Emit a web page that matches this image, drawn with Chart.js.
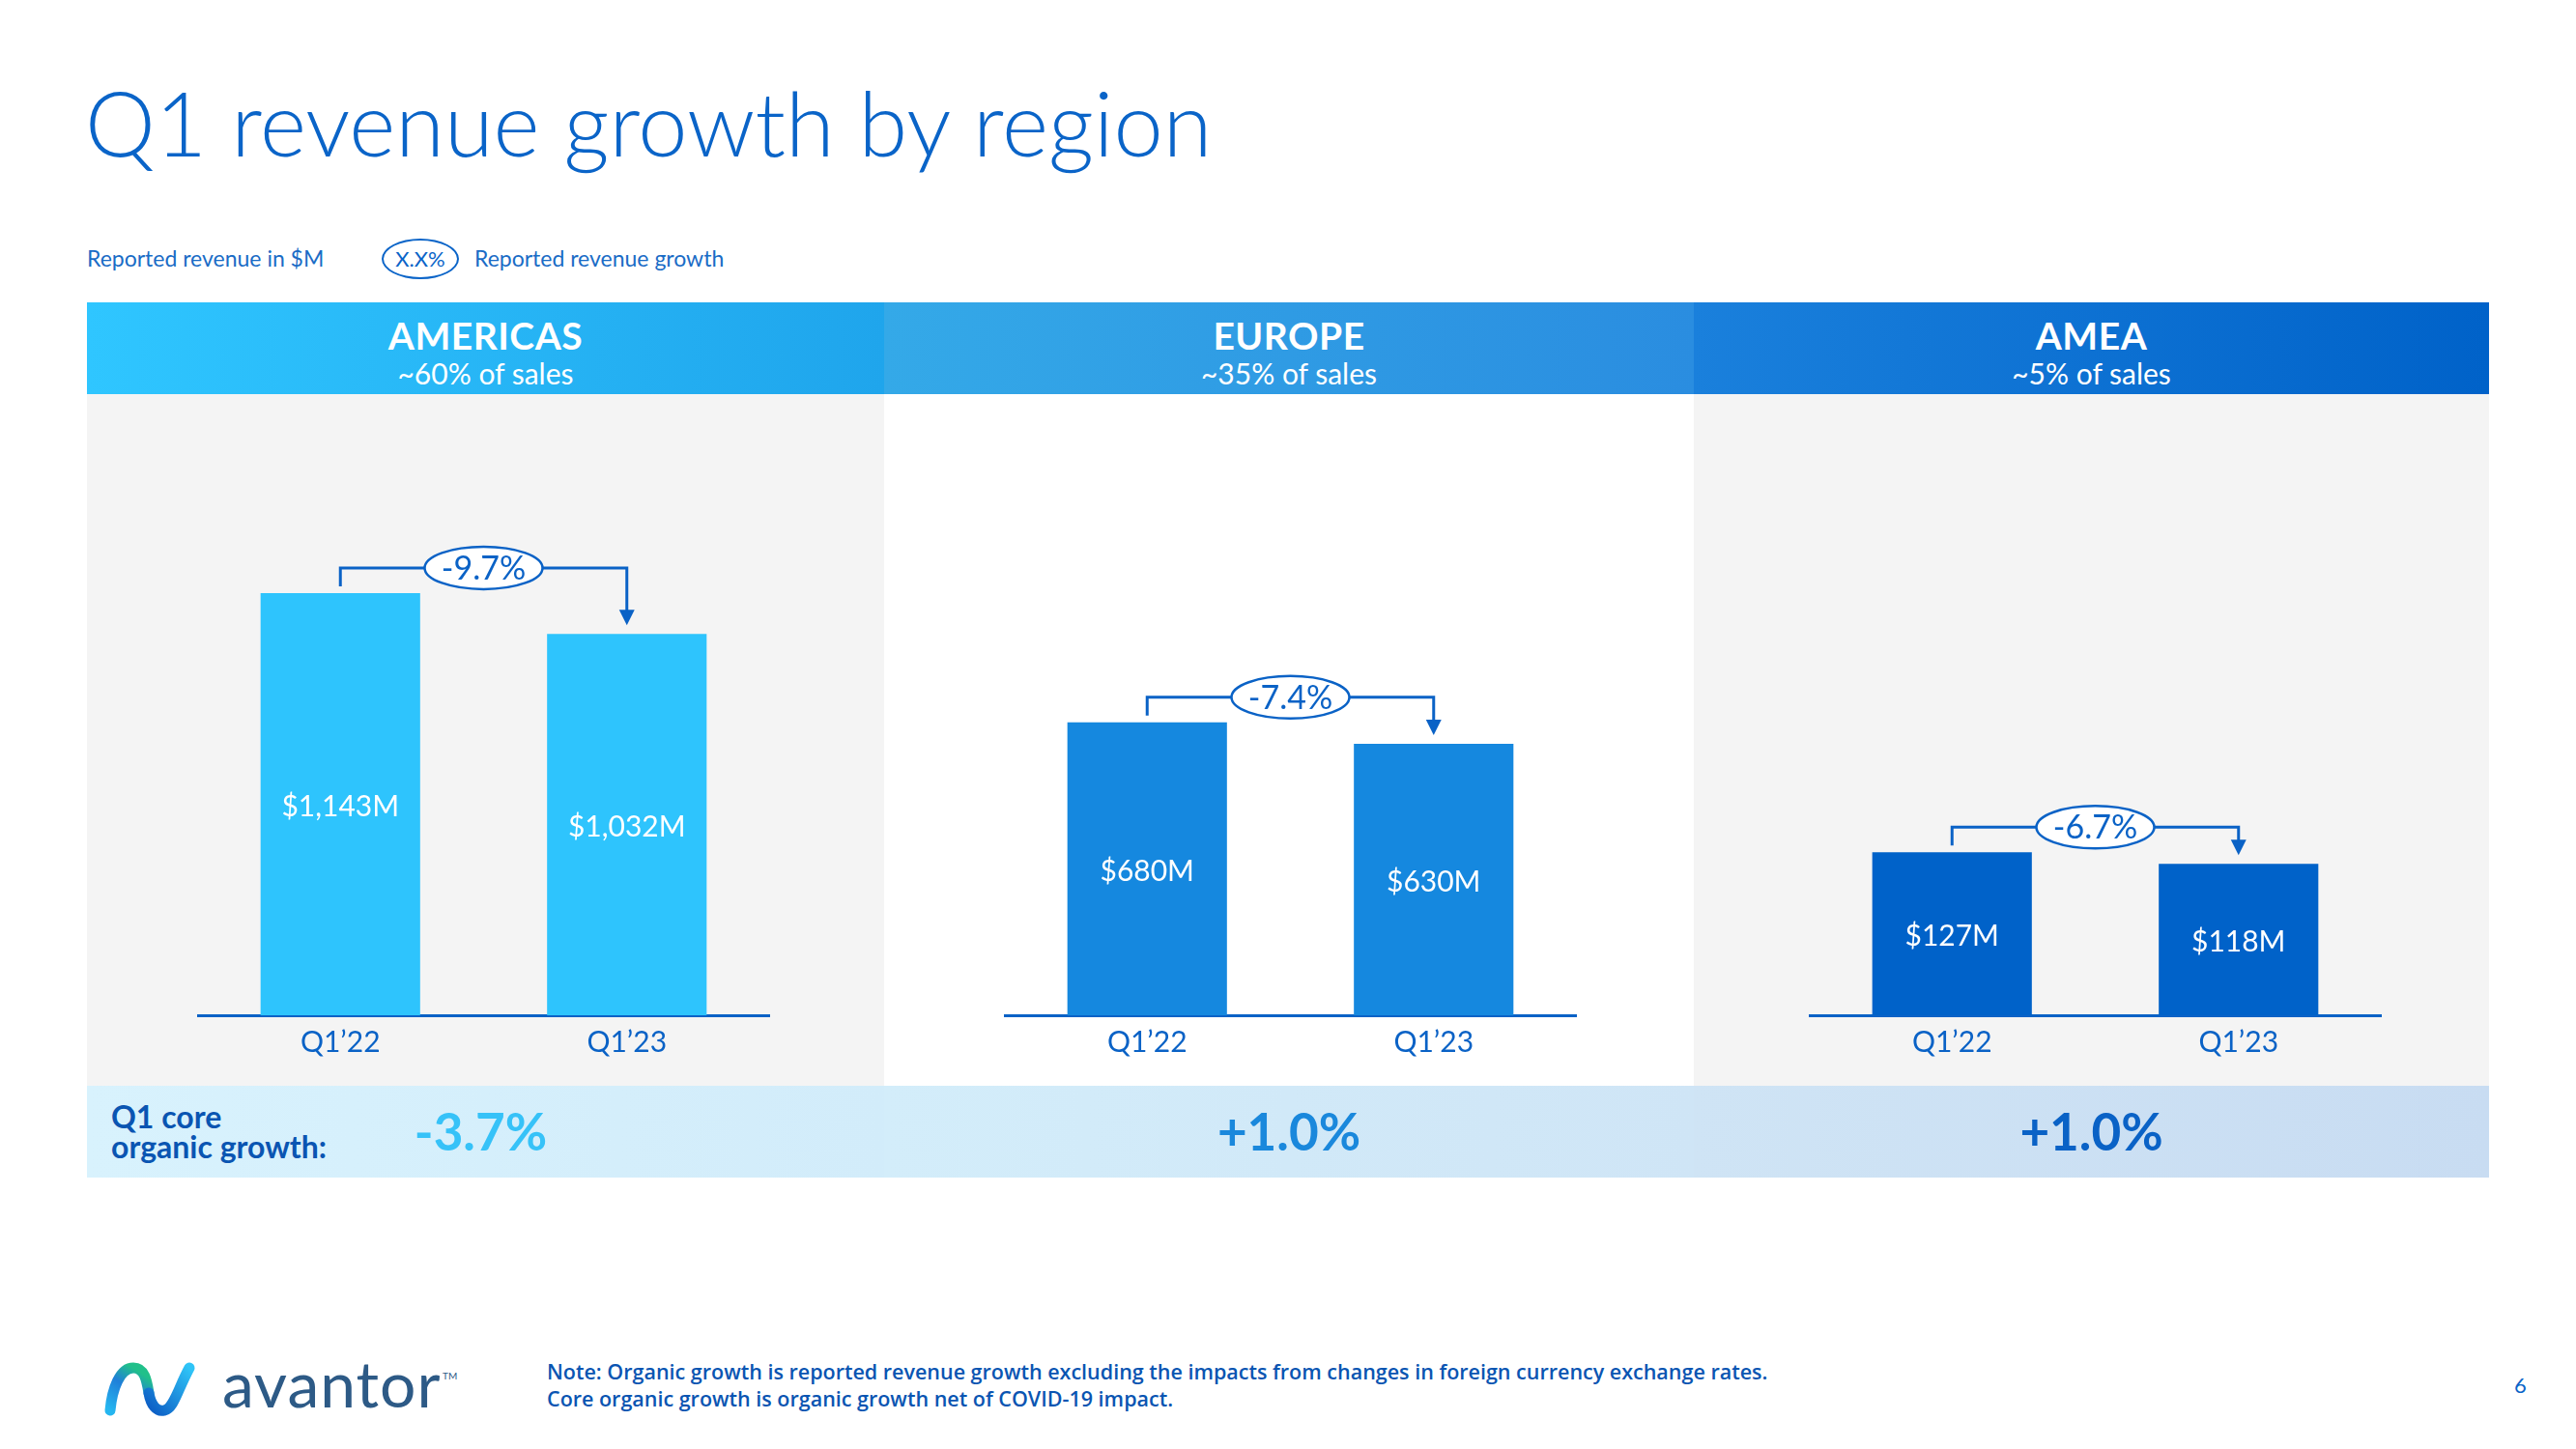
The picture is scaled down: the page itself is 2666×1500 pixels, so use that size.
<!DOCTYPE html>
<html>
<head>
<meta charset="utf-8">
<script src="https://cdn.jsdelivr.net/npm/chart.js@4.4.0/dist/chart.umd.min.js"></script>
<style>
  html, body { margin: 0; padding: 0; background: #ffffff; }
  body { width: 2666px; height: 1500px; position: relative; overflow: hidden; font-family: Lato, "Open Sans", sans-serif; color: #0862c6; }
  .abs { position: absolute; }
  #title { left: 88px; top: 76px; font-size: 92px; font-weight: 300; color: #0a64c8; white-space: nowrap; line-height: 1.1; }
  .legend { top: 252px; font-size: 23px; color: #1a6cc6; white-space: nowrap; line-height: 30px; }
  #legendOval { left: 395px; top: 247px; width: 76px; height: 38px; border: 2px solid #0a64c8; border-radius: 50%; text-align: center; line-height: 38px; font-size: 22px; color: #0a64c8; }
  .head { top: 313px; height: 95px; color: #fff; text-align: center; }
  .head .name { position: absolute; left: 0; right: 0; top: 13px; font-size: 39px; font-weight: 700; line-height: 42px; letter-spacing: 0.5px; }
  .head .share { position: absolute; left: 0; right: 0; top: 56px; font-size: 30px; line-height: 34px; }
  .panel { top: 408px; height: 716px; }
  .band { top: 1124px; height: 95px; }
  .growth { position: absolute; top: 18px; font-size: 53px; font-weight: 700; line-height: 58px; text-align: center; }
  #coreLabel { left: 115px; top: 1140px; font-size: 32px; font-weight: 700; color: #0a55b2; line-height: 31px; }
  canvas { position: absolute; }
  #note { left: 566px; top: 1406px; font-family: "Open Sans", sans-serif; font-size: 21.5px; font-weight: 600; color: #0a55b2; line-height: 28px; white-space: nowrap; }
  #page { left: 2602px; top: 1420px; font-size: 22px; color: #0a64c8; }
  #logoText { left: 230px; top: 1392px; font-size: 66px; color: #2d5a86; font-weight: 400; letter-spacing: 1px; line-height: 80px; }
  #tm { left: 458px; top: 1418px; font-size: 10px; color: #2d5a86; }
</style>
</head>
<body>
<div id="title" class="abs">Q1 revenue growth by region</div>
<div class="abs legend" style="left:90px">Reported revenue in $M</div>
<div id="legendOval" class="abs">X.X%</div>
<div class="abs legend" style="left:491px">Reported revenue growth</div>

<div id="heads"></div>
<div id="coreLabel" class="abs">Q1 core<br>organic growth:</div>

<svg class="abs" style="left:108px; top:1408px" width="120" height="60" viewBox="0 0 120 60">
  <defs>
    <linearGradient id="g1" x1="0" y1="1" x2="0.6" y2="0">
      <stop offset="0" stop-color="#25b6f0"/>
      <stop offset="0.6" stop-color="#1f7fd8"/>
      <stop offset="1" stop-color="#21c08a"/>
    </linearGradient>
    <linearGradient id="g2" x1="0" y1="1" x2="1" y2="0">
      <stop offset="0" stop-color="#0c5cc4"/>
      <stop offset="1" stop-color="#2fc4f7"/>
    </linearGradient>
  </defs>
  <path d="M6 52 C 8 30, 16 8, 30 8 C 42 8, 44 22, 46 34" fill="none" stroke="url(#g1)" stroke-width="11" stroke-linecap="round"/>
  <path d="M46 34 C 48 46, 54 54, 62 52 C 72 50, 76 30, 88 8" fill="none" stroke="url(#g2)" stroke-width="11" stroke-linecap="round"/>
</svg>
<div id="logoText" class="abs">avantor</div>
<div id="tm" class="abs">TM</div>
<div id="note" class="abs">Note: Organic growth is reported revenue growth excluding the impacts from changes in foreign currency exchange rates.<br>Core organic growth is organic growth net of COVID-19 impact.</div>
<div id="page" class="abs">6</div>

<script>
// chart data
const regions = ['AMERICAS', 'EUROPE', 'AMEA'];
const salesShare = ['~60% of sales', '~35% of sales', '~5% of sales'];
const periods = ['Q1\u201922', 'Q1\u201923'];
const americasRevenue = [1143, 1032];
const europeRevenue = [680, 630];
const ameaRevenue = [127, 118];
const reportedGrowth = ['-9.7%', '-7.4%', '-6.7%'];
const coreOrganicGrowth = ['-3.7%', '+1.0%', '+1.0%'];
const axisMax = [1650, 1415, 475];

// look per region
const barColors = ['#2ec4fd', '#1588df', '#0062c9'];
const growthColors = ['#36c2f8', '#1a88dc', '#0a62c6'];
const headGradients = [
    'linear-gradient(90deg, #2fc6ff 0%, #1fa5ec 100%)',
    'linear-gradient(90deg, #34a9e8 0%, #2a8de0 100%)',
    'linear-gradient(90deg, #1a80dc 0%, #0062c9 100%)'
];
const bandGradients = [
    'linear-gradient(90deg, #d8f2fd 0%, #d2ecfa 100%)',
    'linear-gradient(90deg, #d3edfa 0%, #cfe5f6 100%)',
    'linear-gradient(90deg, #cfe4f5 0%, #c8dcf2 100%)'
];
const panelColors = ['#f4f4f4', '#ffffff', '#f4f4f4'];
const sectionLeft = [90, 915, 1753];
const sectionWidth = [825, 838, 823];
const axisLeft = [204, 1039, 1872];
const revenueSets = [americasRevenue, europeRevenue, ameaRevenue];

const BLUE = '#0a62c6';

Chart.defaults.font.family = 'Lato, "Open Sans", sans-serif';

// build the static blocks (headers, panels, bottom band)
const holder = document.getElementById('heads');
regions.forEach((name, i) => {
    const head = document.createElement('div');
    head.className = 'abs head';
    head.style.left = sectionLeft[i] + 'px';
    head.style.width = sectionWidth[i] + 'px';
    head.style.background = headGradients[i];
    head.innerHTML = `<div class="name">${name}</div><div class="share">${salesShare[i]}</div>`;
    holder.appendChild(head);

    const panel = document.createElement('div');
    panel.className = 'abs panel';
    panel.style.left = sectionLeft[i] + 'px';
    panel.style.width = sectionWidth[i] + 'px';
    panel.style.background = panelColors[i];
    holder.appendChild(panel);

    const band = document.createElement('div');
    band.className = 'abs band';
    band.style.left = sectionLeft[i] + 'px';
    band.style.width = sectionWidth[i] + 'px';
    band.style.background = bandGradients[i];
    const g = document.createElement('div');
    g.className = 'growth';
    g.style.color = growthColors[i];
    g.textContent = coreOrganicGrowth[i];
    if (i === 0) {
        g.style.left = '330px';
        g.style.width = '155px';
    } else {
        g.style.left = '0';
        g.style.right = '0';
    }
    band.appendChild(g);
    holder.appendChild(band);
});

// value labels + growth bracket with arrow
const bracketPlugin = {
    id: 'bracket',
    afterDatasetsDraw(chart, args, opts) {
        const ctx = chart.ctx;
        const bars = chart.getDatasetMeta(0).data;
        const values = chart.data.datasets[0].data;

        ctx.save();
        ctx.fillStyle = '#ffffff';
        ctx.font = '30px Lato, "Open Sans", sans-serif';
        ctx.textAlign = 'center';
        ctx.textBaseline = 'middle';
        bars.forEach((bar, k) => {
            const label = '$' + values[k].toLocaleString('en-US') + 'M';
            ctx.fillText(label, bar.x, (bar.y + bar.base) / 2 + 3);
        });

        const b0 = bars[0], b1 = bars[1];
        const lineY = b0.y - 26;
        const tipY = b1.y - 9;
        ctx.strokeStyle = BLUE;
        ctx.fillStyle = BLUE;
        ctx.lineWidth = 3;
        ctx.beginPath();
        ctx.moveTo(b0.x, b0.y - 7);
        ctx.lineTo(b0.x, lineY);
        ctx.lineTo(b1.x, lineY);
        ctx.lineTo(b1.x, tipY - 14);
        ctx.stroke();
        ctx.beginPath();
        ctx.moveTo(b1.x - 8, tipY - 16);
        ctx.lineTo(b1.x + 8, tipY - 16);
        ctx.lineTo(b1.x, tipY);
        ctx.closePath();
        ctx.fill();

        const cx = (b0.x + b1.x) / 2;
        ctx.beginPath();
        ctx.ellipse(cx, lineY, 61, 22, 0, 0, Math.PI * 2);
        ctx.fillStyle = '#ffffff';
        ctx.fill();
        ctx.lineWidth = 2.5;
        ctx.stroke();
        ctx.fillStyle = BLUE;
        ctx.font = '34px Lato, "Open Sans", sans-serif';
        ctx.fillText(opts.growth, cx, lineY + 1);
        ctx.restore();
    }
};

const charts = {};
regions.forEach((name, i) => {
    const canvas = document.createElement('canvas');
    canvas.style.left = axisLeft[i] + 'px';
    canvas.style.top = '420px';
    canvas.style.width = '593px';
    canvas.style.height = '687px';
    canvas.width = 593;
    canvas.height = 687;
    document.body.appendChild(canvas);

    charts[name] = new Chart(canvas.getContext('2d'), {
        type: 'bar',
        data: {
            labels: periods,
            datasets: [{
                data: revenueSets[i],
                backgroundColor: barColors[i],
                borderWidth: 0,
                categoryPercentage: 1,
                barPercentage: 0.557
            }]
        },
        options: {
            responsive: false,
            animation: false,
            maintainAspectRatio: false,
            layout: { padding: 0 },
            plugins: {
                legend: { display: false },
                tooltip: { enabled: false },
                bracket: { growth: reportedGrowth[i] }
            },
            scales: {
                x: {
                    grid: { display: false, drawTicks: false },
                    border: { display: true, color: BLUE, width: 3 },
                    ticks: {
                        color: BLUE,
                        padding: 10,
                        font: { size: 30 }
                    }
                },
                y: {
                    display: false,
                    min: 0,
                    max: axisMax[i]
                }
            }
        },
        plugins: [bracketPlugin]
    });
});
</script>
</body>
</html>
